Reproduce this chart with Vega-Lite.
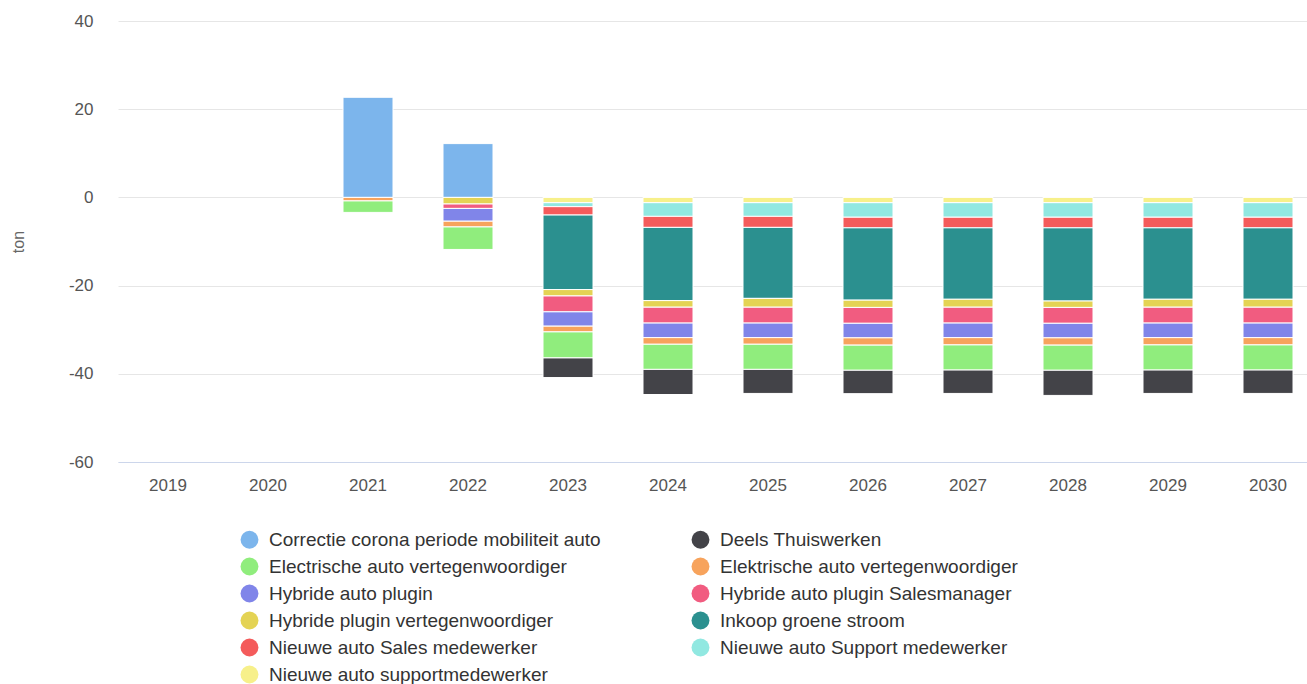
{
  "$schema": "https://vega.github.io/schema/vega-lite/v6.json",
  "width": 1189,
  "height": 441,
  "autosize": {"type": "none"},
  "padding": {"left": 118, "top": 21, "right": 0, "bottom": 222},
  "background": "white",
  "config": {"view": {"stroke": null}, "font": "Liberation Sans"},
  "data": {"values": [
    {"year": "2021", "series": "Correctie corona periode mobiliteit auto", "value": 22.7},
    {"year": "2021", "series": "Elektrische auto vertegenwoordiger", "value": -0.8},
    {"year": "2021", "series": "Electrische auto vertegenwoordiger", "value": -2.6},

    {"year": "2022", "series": "Correctie corona periode mobiliteit auto", "value": 12.2},
    {"year": "2022", "series": "Hybride plugin vertegenwoordiger", "value": -1.5},
    {"year": "2022", "series": "Hybride auto plugin Salesmanager", "value": -1.0},
    {"year": "2022", "series": "Hybride auto plugin", "value": -2.9},
    {"year": "2022", "series": "Elektrische auto vertegenwoordiger", "value": -1.3},
    {"year": "2022", "series": "Electrische auto vertegenwoordiger", "value": -5.1},

    {"year": "2023", "series": "Nieuwe auto supportmedewerker", "value": -1.2},
    {"year": "2023", "series": "Nieuwe auto Support medewerker", "value": -0.9},
    {"year": "2023", "series": "Nieuwe auto Sales medewerker", "value": -1.9},
    {"year": "2023", "series": "Inkoop groene stroom", "value": -16.9},
    {"year": "2023", "series": "Hybride plugin vertegenwoordiger", "value": -1.45},
    {"year": "2023", "series": "Hybride auto plugin Salesmanager", "value": -3.6},
    {"year": "2023", "series": "Hybride auto plugin", "value": -3.25},
    {"year": "2023", "series": "Elektrische auto vertegenwoordiger", "value": -1.3},
    {"year": "2023", "series": "Electrische auto vertegenwoordiger", "value": -5.9},
    {"year": "2023", "series": "Deels Thuiswerken", "value": -4.45},

    {"year": "2024", "series": "Nieuwe auto supportmedewerker", "value": -1.2},
    {"year": "2024", "series": "Nieuwe auto Support medewerker", "value": -3.1},
    {"year": "2024", "series": "Nieuwe auto Sales medewerker", "value": -2.5},
    {"year": "2024", "series": "Inkoop groene stroom", "value": -16.6},
    {"year": "2024", "series": "Hybride plugin vertegenwoordiger", "value": -1.5},
    {"year": "2024", "series": "Hybride auto plugin Salesmanager", "value": -3.6},
    {"year": "2024", "series": "Hybride auto plugin", "value": -3.3},
    {"year": "2024", "series": "Elektrische auto vertegenwoordiger", "value": -1.5},
    {"year": "2024", "series": "Electrische auto vertegenwoordiger", "value": -5.7},
    {"year": "2024", "series": "Deels Thuiswerken", "value": -5.7},

    {"year": "2025", "series": "Nieuwe auto supportmedewerker", "value": -1.2},
    {"year": "2025", "series": "Nieuwe auto Support medewerker", "value": -3.1},
    {"year": "2025", "series": "Nieuwe auto Sales medewerker", "value": -2.5},
    {"year": "2025", "series": "Inkoop groene stroom", "value": -16.1},
    {"year": "2025", "series": "Hybride plugin vertegenwoordiger", "value": -2.0},
    {"year": "2025", "series": "Hybride auto plugin Salesmanager", "value": -3.6},
    {"year": "2025", "series": "Hybride auto plugin", "value": -3.3},
    {"year": "2025", "series": "Elektrische auto vertegenwoordiger", "value": -1.5},
    {"year": "2025", "series": "Electrische auto vertegenwoordiger", "value": -5.7},
    {"year": "2025", "series": "Deels Thuiswerken", "value": -5.45},

    {"year": "2026", "series": "Nieuwe auto supportmedewerker", "value": -1.2},
    {"year": "2026", "series": "Nieuwe auto Support medewerker", "value": -3.3},
    {"year": "2026", "series": "Nieuwe auto Sales medewerker", "value": -2.4},
    {"year": "2026", "series": "Inkoop groene stroom", "value": -16.4},
    {"year": "2026", "series": "Hybride plugin vertegenwoordiger", "value": -1.65},
    {"year": "2026", "series": "Hybride auto plugin Salesmanager", "value": -3.6},
    {"year": "2026", "series": "Hybride auto plugin", "value": -3.3},
    {"year": "2026", "series": "Elektrische auto vertegenwoordiger", "value": -1.65},
    {"year": "2026", "series": "Electrische auto vertegenwoordiger", "value": -5.7},
    {"year": "2026", "series": "Deels Thuiswerken", "value": -5.3},

    {"year": "2027", "series": "Nieuwe auto supportmedewerker", "value": -1.2},
    {"year": "2027", "series": "Nieuwe auto Support medewerker", "value": -3.3},
    {"year": "2027", "series": "Nieuwe auto Sales medewerker", "value": -2.4},
    {"year": "2027", "series": "Inkoop groene stroom", "value": -16.2},
    {"year": "2027", "series": "Hybride plugin vertegenwoordiger", "value": -1.8},
    {"year": "2027", "series": "Hybride auto plugin Salesmanager", "value": -3.6},
    {"year": "2027", "series": "Hybride auto plugin", "value": -3.3},
    {"year": "2027", "series": "Elektrische auto vertegenwoordiger", "value": -1.65},
    {"year": "2027", "series": "Electrische auto vertegenwoordiger", "value": -5.7},
    {"year": "2027", "series": "Deels Thuiswerken", "value": -5.3},

    {"year": "2028", "series": "Nieuwe auto supportmedewerker", "value": -1.2},
    {"year": "2028", "series": "Nieuwe auto Support medewerker", "value": -3.3},
    {"year": "2028", "series": "Nieuwe auto Sales medewerker", "value": -2.4},
    {"year": "2028", "series": "Inkoop groene stroom", "value": -16.6},
    {"year": "2028", "series": "Hybride plugin vertegenwoordiger", "value": -1.45},
    {"year": "2028", "series": "Hybride auto plugin Salesmanager", "value": -3.6},
    {"year": "2028", "series": "Hybride auto plugin", "value": -3.3},
    {"year": "2028", "series": "Elektrische auto vertegenwoordiger", "value": -1.65},
    {"year": "2028", "series": "Electrische auto vertegenwoordiger", "value": -5.7},
    {"year": "2028", "series": "Deels Thuiswerken", "value": -5.7},

    {"year": "2029", "series": "Nieuwe auto supportmedewerker", "value": -1.2},
    {"year": "2029", "series": "Nieuwe auto Support medewerker", "value": -3.3},
    {"year": "2029", "series": "Nieuwe auto Sales medewerker", "value": -2.4},
    {"year": "2029", "series": "Inkoop groene stroom", "value": -16.2},
    {"year": "2029", "series": "Hybride plugin vertegenwoordiger", "value": -1.8},
    {"year": "2029", "series": "Hybride auto plugin Salesmanager", "value": -3.6},
    {"year": "2029", "series": "Hybride auto plugin", "value": -3.3},
    {"year": "2029", "series": "Elektrische auto vertegenwoordiger", "value": -1.65},
    {"year": "2029", "series": "Electrische auto vertegenwoordiger", "value": -5.7},
    {"year": "2029", "series": "Deels Thuiswerken", "value": -5.3},

    {"year": "2030", "series": "Nieuwe auto supportmedewerker", "value": -1.2},
    {"year": "2030", "series": "Nieuwe auto Support medewerker", "value": -3.3},
    {"year": "2030", "series": "Nieuwe auto Sales medewerker", "value": -2.4},
    {"year": "2030", "series": "Inkoop groene stroom", "value": -16.2},
    {"year": "2030", "series": "Hybride plugin vertegenwoordiger", "value": -1.8},
    {"year": "2030", "series": "Hybride auto plugin Salesmanager", "value": -3.6},
    {"year": "2030", "series": "Hybride auto plugin", "value": -3.3},
    {"year": "2030", "series": "Elektrische auto vertegenwoordiger", "value": -1.65},
    {"year": "2030", "series": "Electrische auto vertegenwoordiger", "value": -5.7},
    {"year": "2030", "series": "Deels Thuiswerken", "value": -5.3}
  ]},
  "mark": {"type": "bar", "stroke": "white", "strokeWidth": 1},
  "encoding": {
    "x": {
      "field": "year", "type": "nominal",
      "scale": {"domain": ["2019","2020","2021","2022","2023","2024","2025","2026","2027","2028","2029","2030"], "range": [0, 1200], "paddingInner": 0.5, "paddingOuter": 0.25},
      "axis": {"title": null, "labelAngle": 0, "ticks": false, "domainColor": "#ccd6eb", "domainWidth": 1, "labelFontSize": 17, "labelColor": "#555", "labelPadding": 15, "labelFont": "Liberation Sans"}
    },
    "y": {
      "field": "value", "type": "quantitative", "stack": "zero",
      "scale": {"domain": [-60, 40], "nice": false},
      "axis": {"title": "ton", "values": [-60,-40,-20,0,20,40], "labelExpr": "'' + datum.value", "domain": false, "ticks": false, "gridColor": "#e6e6e6", "labelFontSize": 17, "labelColor": "#555", "labelPadding": 25, "titleFontSize": 16, "titleFontWeight": "normal", "titleColor": "#666", "titlePadding": 42, "labelFont": "Liberation Sans", "titleFont": "Liberation Sans"}
    },
    "color": {
      "field": "series", "type": "nominal",
      "scale": {
        "domain": ["Correctie corona periode mobiliteit auto","Deels Thuiswerken","Electrische auto vertegenwoordiger","Elektrische auto vertegenwoordiger","Hybride auto plugin","Hybride auto plugin Salesmanager","Hybride plugin vertegenwoordiger","Inkoop groene stroom","Nieuwe auto Sales medewerker","Nieuwe auto Support medewerker","Nieuwe auto supportmedewerker"],
        "range": ["#7cb5ec","#434348","#90ed7d","#f7a35c","#8085e9","#f15c80","#e4d354","#2b908f","#f45b5b","#91e8e1","#f7f08a"]
      },
      "legend": {
        "title": null, "orient": "none", "legendX": 122, "legendY": 509, "direction": "horizontal", "columns": 2,
        "symbolType": "circle", "symbolSize": 320, "symbolStrokeWidth": 0, "symbolOpacity": 1,
        "labelFontSize": 19, "labelColor": "#333", "labelFont": "Liberation Sans", "labelLimit": 500, "labelOffset": 10,
        "columnPadding": 90, "rowPadding": 7
      }
    },
    "order": {"field": "series", "sort": "descending"}
  }
}
